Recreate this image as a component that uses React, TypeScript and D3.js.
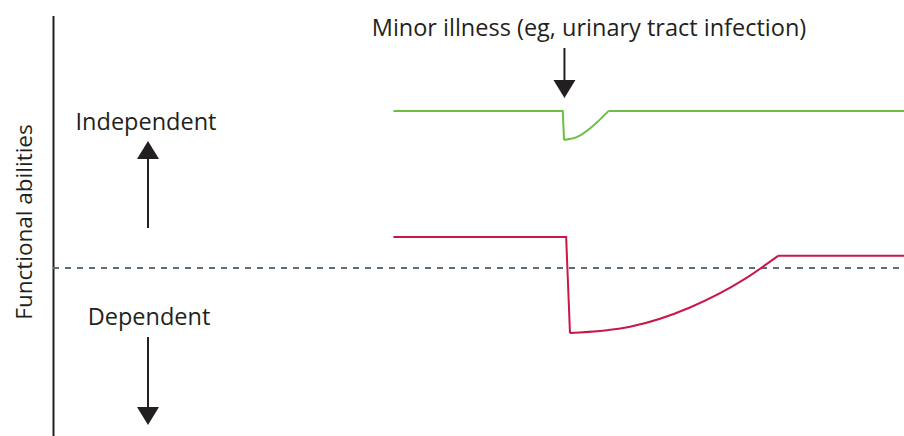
import React from 'react';
import * as d3 from 'd3';

// time (0-100 along the x axis) vs functional ability (0-100)
const greenT = [40, 59.9, 60.05, 61.6, 63.2, 65.3, 100];
const greenV = [77.4, 77.4, 70.5, 71.2, 73.4, 77.4, 77.4];
const greenCurve = [2, 5]; // index range of the recovery curve

const redT = [40, 60.3, 60.75, 67.8, 74.85, 81.3, 85.2, 100];
const redV = [47.4, 47.4, 24.5, 26.0, 30.6, 37.4, 42.9, 42.9];
const redCurve = [2, 6];

const threshold = 40;
const labels = ['Independent', 'Dependent'];
const yTitle = 'Functional abilities';
const eventLabel = 'Minor illness (eg, urinary tract infection)';
const eventT = 60.1;

const W = 904, H = 436;
const font = '"Open Sans", Lato, sans-serif';
const ink = '#231f20';

export default function App() {
  const x = d3.scaleLinear().domain([0, 100]).range([53, 904]);
  const y = d3.scaleLinear().domain([0, 100]).range([436, 16]);

  const straight = d3.line<[number, number]>().x(d => x(d[0])).y(d => y(d[1]));
  const smooth = d3.line<[number, number]>().x(d => x(d[0])).y(d => y(d[1])).curve(d3.curveMonotoneX);

  const seriesPath = (ts: number[], vs: number[], c: number[]) => {
    const pts = ts.map((t, i) => [t, vs[i]] as [number, number]);
    return [
      straight(pts.slice(0, c[0] + 1)),
      smooth(pts.slice(c[0], c[1] + 1)),
      straight(pts.slice(c[1])),
    ].join(' ');
  };

  const arrow = (cx: number, y0: number, yBase: number, yTip: number, k: string) => (
    <g key={k}>
      <line x1={cx} x2={cx} y1={y0} y2={yBase} stroke={ink} strokeWidth={2} />
      <path d={`M${cx - 11},${yBase}L${cx + 11},${yBase}L${cx},${yTip}Z`} fill={ink} />
    </g>
  );

  const ex = x(eventT);

  return (
    <svg width={W} height={H} style={{ position: 'absolute', left: 0, top: 0 }}>
      <rect width={W} height={H} fill="#fff" />
      <line x1={53.5} x2={53.5} y1={y(100)} y2={H} stroke={ink} strokeWidth={2} />
      <line x1={53} x2={W} y1={y(threshold)} y2={y(threshold)} stroke="#5a6e78" strokeWidth={2} strokeDasharray="6 6" />
      <path d={seriesPath(greenT, greenV, greenCurve)} fill="none" stroke="#6dbe45" strokeWidth={2} />
      <path d={seriesPath(redT, redV, redCurve)} fill="none" stroke="#c8184a" strokeWidth={2} />
      <text x={146} y={130} textAnchor="middle" fontFamily={font} fontSize={23.5} fill={ink}>{labels[0]}</text>
      <text x={149} y={325} textAnchor="middle" fontFamily={font} fontSize={23.5} fill={ink}>{labels[1]}</text>
      <text transform="translate(32,222) rotate(-90)" textAnchor="middle" fontFamily={font} fontSize={22.5} fill={ink}>{yTitle}</text>
      <text x={589} y={36} textAnchor="middle" fontFamily={font} fontSize={23.5} fill={ink}>{eventLabel}</text>
      {arrow(148, 228, 159, 141, 'up')}
      {arrow(148, 337, 407, 425, 'down')}
      {arrow(ex, 48, 80, 98, 'event')}
    </svg>
  );
}
